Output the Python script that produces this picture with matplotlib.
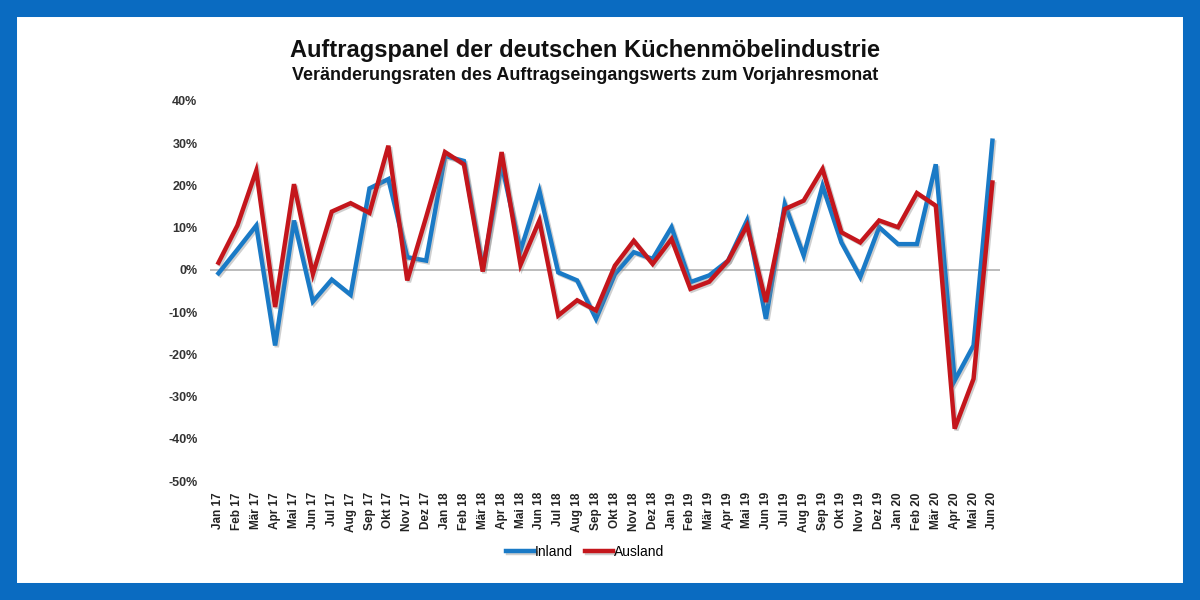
import matplotlib as mpl
mpl.use("Agg")
import matplotlib.pyplot as plt
import matplotlib.patheffects as pe
from matplotlib.patches import Rectangle
from matplotlib.ticker import PercentFormatter

# Monthly change rates of order intake vs. same month previous year (%)
months = [
    "Jan 17", "Feb 17", "Mär 17", "Apr 17", "Mai 17", "Jun 17", "Jul 17", "Aug 17",
    "Sep 17", "Okt 17", "Nov 17", "Dez 17", "Jan 18", "Feb 18", "Mär 18", "Apr 18",
    "Mai 18", "Jun 18", "Jul 18", "Aug 18", "Sep 18", "Okt 18", "Nov 18", "Dez 18",
    "Jan 19", "Feb 19", "Mär 19", "Apr 19", "Mai 19", "Jun 19", "Jul 19", "Aug 19",
    "Sep 19", "Okt 19", "Nov 19", "Dez 19", "Jan 20", "Feb 20", "Mär 20", "Apr 20",
    "Mai 20", "Jun 20",
]
inland = [
    -0.8, 4.8, 10.5, -17.9, 11.7, -7.5, -2.3, -5.9, 19.3, 21.5, 3.0, 2.2,
    27.0, 25.8, 0.2, 25.0, 4.6, 18.7, -0.6, -2.5, -11.6, -1.0, 4.2, 2.6,
    10.1, -2.9, -1.3, 2.2, 11.7, -11.6, 15.6, 3.4, 19.9, 6.5, -1.7, 10.1,
    6.1, 6.1, 25.0, -26.2, -17.9, 30.6,
]
ausland = [
    1.7, 10.5, 23.5, -8.8, 20.3, -1.0, 13.8, 15.8, 13.5, 29.4, -2.5, 12.5,
    27.9, 25.0, -0.4, 27.9, 1.2, 11.7, -10.8, -7.2, -9.6, 1.0, 6.9, 1.4,
    7.3, -4.5, -2.8, 2.2, 10.5, -7.6, 14.4, 16.4, 23.9, 8.9, 6.5, 11.7,
    10.1, 18.2, 15.2, -37.6, -25.8, 20.7,
]

plt.rcParams["font.family"] = ["Liberation Sans", "DejaVu Sans"]
plt.rcParams["axes.unicode_minus"] = False

fig = plt.figure(figsize=(12, 6), dpi=100)
fig.patch.set_facecolor("white")

# blue frame around the picture (~17 px wide)
frame = "#0a6bc1"
fig.patches.append(Rectangle((0, 0), 1, 1, transform=fig.transFigure,
                             facecolor="none", edgecolor=frame, linewidth=24.5, zorder=0))

ax = fig.add_axes([0.175, 0.1983, 0.6583, 0.6334])
x = range(len(months))

shadow = [pe.SimpleLineShadow(offset=(1.2, -1.2), shadow_color="#888888", alpha=0.4), pe.Normal()]
ax.plot(x, inland, color="#1a7ac6", linewidth=3.2, label="Inland",
        solid_joinstyle="miter", path_effects=shadow, zorder=3)
ax.plot(x, ausland, color="#c4161c", linewidth=3.2, label="Ausland",
        solid_joinstyle="miter", path_effects=shadow, zorder=4)

ax.axhline(0, color="#b0b0b0", linewidth=1.2, zorder=1)

ax.set_xlim(-0.45, len(months) - 0.6)
ax.set_ylim(-50, 40)
ax.set_yticks(range(-50, 41, 10))
ax.yaxis.set_major_formatter(PercentFormatter(decimals=0))
ax.set_xticks(list(x))
ax.set_xticklabels(months, rotation=90, fontsize=8.5, fontweight="bold", color="#222222")
for lab in ax.get_yticklabels():
    lab.set_fontsize(9)
    lab.set_fontweight("bold")
    lab.set_color("#333333")
ax.tick_params(length=0, axis="both")
ax.tick_params(axis="y", pad=9)
ax.tick_params(axis="x", pad=8)
for s in ax.spines.values():
    s.set_visible(False)

fig.text(0.4875, 0.915, "Auftragspanel der deutschen Küchenmöbelindustrie",
         ha="center", va="center", fontsize=17, fontweight="bold", color="#111111")
fig.text(0.4875, 0.875, "Veränderungsraten des Auftragseingangswerts zum Vorjahresmonat",
         ha="center", va="center", fontsize=13, fontweight="bold", color="#111111")

fig.legend(loc="center", bbox_to_anchor=(0.4875, 0.08), ncol=2, frameon=False,
           fontsize=10, handlelength=2.0, handletextpad=0.05, columnspacing=0.9)

fig.savefig("out.png", dpi=100)
